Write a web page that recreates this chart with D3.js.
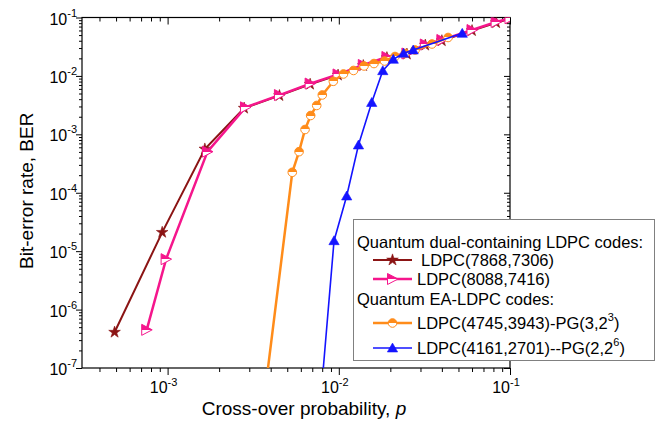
<!DOCTYPE html>
<html>
<head>
<meta charset="utf-8">
<script src="https://cdn.jsdelivr.net/npm/d3@7"></script>
<style>
  body { margin: 0; background: #fff; }
  text { font-family: "Liberation Sans", Arial, Helvetica, sans-serif; fill: #000; }
</style>
</head>
<body>
<script>
// Dimensions
const width = 661;
const height = 426;
const plot = { left: 82, right: 510, top: 17.5, bottom: 368 };

// les données
const pStar   = [4.9e-4, 9.3e-4, 1.65e-3, 2.8e-3, 4.5e-3, 6.8e-3, 9.9e-3, 0.0139, 0.0191, 0.025, 0.032, 0.040, 0.060, 0.083, 0.1];
const berStar = [4.1e-7, 2.1e-5, 5.6e-4, 2.8e-3, 4.6e-3, 7.2e-3, 0.0103, 0.0150, 0.0205, 0.0236, 0.0336, 0.0400, 0.0595, 0.0815, 0.095];

const pTri   = [7.55e-4, 9.8e-4, 1.71e-3, 2.85e-3, 4.5e-3, 6.8e-3, 9.9e-3, 0.0139, 0.0191, 0.025, 0.032, 0.040, 0.060, 0.083, 0.1];
const berTri = [4.5e-7, 7.3e-6, 5.05e-4, 2.9e-3, 4.7e-3, 7.4e-3, 0.0106, 0.0154, 0.0211, 0.0242, 0.0345, 0.0412, 0.061, 0.084, 0.097];

const pPG3   = [3.5e-3, 5.35e-3, 5.86e-3, 6.35e-3, 6.85e-3, 7.43e-3, 8.01e-3, 9.29e-3, 0.01065, 0.01219, 0.01404, 0.01605, 0.0185, 0.0213, 0.0244, 0.0279, 0.035, 0.0435];
const berPG3 = [1e-8, 2.24e-4, 5.05e-4, 1.21e-3, 2.10e-3, 3.12e-3, 4.72e-3, 8.09e-3, 0.0108, 0.0124, 0.0148, 0.0163, 0.0180, 0.0215, 0.0242, 0.0278, 0.0352, 0.0455];

const pPG2   = [7.6e-3, 9.38e-3, 0.01112, 0.01303, 0.01557, 0.01807, 0.0208, 0.0239, 0.0272, 0.0526];
const berPG2 = [1e-8, 1.51e-5, 8.8e-5, 6.57e-4, 3.51e-3, 0.01229, 0.01926, 0.0244, 0.0278, 0.0536];

const xMajor = [-3, -2, -1];
const yMajor = [-7, -6, -5, -4, -3, -2, -1];

const colors = { star: "#8b1414", tri: "#f5168c", pg3: "#ff8c1a", pg2: "#1414ff" };

const series = [
  { name: "LDPC(7868,7306)", p: pStar, ber: berStar, color: colors.star, marker: "star", lw: 2 },
  { name: "LDPC(8088,7416)", p: pTri, ber: berTri, color: colors.tri, marker: "tri", lw: 2.5 },
  { name: "LDPC(4745,3943)-PG(3,2", sup: "3", p: pPG3, ber: berPG3, color: colors.pg3, marker: "circle", lw: 2.5 },
  { name: "LDPC(4161,2701)--PG(2,2", sup: "6", p: pPG2, ber: berPG2, color: colors.pg2, marker: "up", lw: 1.6 }
];

// Création du SVG
const svg = d3.select("body").append("svg")
  .attr("width", width)
  .attr("height", height);

const defs = svg.append("defs");
defs.append("clipPath").attr("id", "clip")
  .append("rect")
  .attr("x", plot.left).attr("y", plot.top)
  .attr("width", plot.right - plot.left).attr("height", plot.bottom - plot.top);

// dégradés pour les marqueurs à moitié remplis
[["half-tri", colors.tri], ["half-pg3", colors.pg3]].forEach(([id, c]) => {
  const g = defs.append("linearGradient").attr("id", id)
    .attr("x1", 0).attr("y1", 0).attr("x2", 0).attr("y2", 1);
  g.append("stop").attr("offset", "0.5").attr("stop-color", c);
  g.append("stop").attr("offset", "0.5").attr("stop-color", "#fff");
});

const x = d3.scaleLog().domain([Math.pow(10, -3.5), 0.1]).range([plot.left, plot.right]);
const y = d3.scaleLog().domain([1e-7, 0.1]).range([plot.bottom, plot.top]);

// graduations mineures
const xMinor = [];
for (let e = -4; e <= -2; e++) for (let k = 2; k <= 9; k++) {
  const v = k * Math.pow(10, e);
  if (v >= x.domain()[0] && v <= x.domain()[1]) xMinor.push(v);
}
const yMinor = [];
for (let e = -7; e <= -2; e++) for (let k = 2; k <= 9; k++) yMinor.push(k * Math.pow(10, e));

function drawAxis(axisFn, scale, values, size, transform) {
  const g = svg.append("g")
    .attr("transform", transform)
    .call(axisFn(scale).tickValues(values).tickSize(size).tickSizeOuter(0).tickFormat(""));
  g.select(".domain").remove();
  g.selectAll("line").attr("stroke", "#000").attr("stroke-width", 1);
}

const xMajorVals = xMajor.map(e => Math.pow(10, e));
const yMajorVals = yMajor.map(e => Math.pow(10, e));

// x : graduations vers le bas en haut et en bas
drawAxis(d3.axisBottom, x, xMajorVals, 7, `translate(0,${plot.bottom})`);
drawAxis(d3.axisBottom, x, xMinor, 4, `translate(0,${plot.bottom})`);
drawAxis(d3.axisBottom, x, xMajorVals, 7, `translate(0,${plot.top})`);
drawAxis(d3.axisBottom, x, xMinor, 4, `translate(0,${plot.top})`);
// y : graduations vers la gauche des deux côtés
drawAxis(d3.axisLeft, y, yMajorVals, 6, `translate(${plot.left},0)`);
drawAxis(d3.axisLeft, y, yMinor, 3, `translate(${plot.left},0)`);
drawAxis(d3.axisLeft, y, yMajorVals, 6, `translate(${plot.right},0)`);
drawAxis(d3.axisLeft, y, yMinor, 3, `translate(${plot.right},0)`);

// cadre
svg.append("rect")
  .attr("x", plot.left).attr("y", plot.top)
  .attr("width", plot.right - plot.left).attr("height", plot.bottom - plot.top)
  .attr("fill", "none").attr("stroke", "#000").attr("stroke-width", 1.2);

// étiquettes 10^n
const xLab = svg.append("g").selectAll("text").data(xMajor).join("text")
  .attr("x", d => x(Math.pow(10, d)) - 4)
  .attr("y", plot.bottom + 25)
  .attr("text-anchor", "middle")
  .style("font-size", "16px");
xLab.append("tspan").text("10");
xLab.append("tspan").attr("dy", -7).style("font-size", "11px").text(d => d);

const yLab = svg.append("g").selectAll("text").data(yMajor).join("text")
  .attr("x", plot.left - 5)
  .attr("y", d => y(Math.pow(10, d)) + 7)
  .attr("text-anchor", "end")
  .style("font-size", "16px");
yLab.append("tspan").text("10");
yLab.append("tspan").attr("dy", -8).style("font-size", "11px").text(d => d);

// titres des axes
const xt = svg.append("text")
  .attr("x", (plot.left + plot.right) / 2 + 8)
  .attr("y", 415)
  .attr("text-anchor", "middle")
  .style("font-size", "19px");
xt.append("tspan").text("Cross-over probability, ");
xt.append("tspan").style("font-style", "italic").text("p");

svg.append("text")
  .attr("transform", `translate(33,${(plot.top + plot.bottom) / 2 - 2}) rotate(-90)`)
  .attr("text-anchor", "middle")
  .style("font-size", "19px")
  .text("Bit-error rate, BER");

// marqueurs
function marker(sel, type, color) {
  if (type === "star") {
    sel.append("path").attr("d", d3.symbol(d3.symbolStar, 42)())
      .attr("fill", color).attr("stroke", color).attr("stroke-width", 0.6);
  } else if (type === "tri") {
    sel.append("path").attr("d", "M-5,-5.5L5.5,0L-5,5.5Z")
      .attr("fill", "url(#half-tri)").attr("stroke", color).attr("stroke-width", 1);
  } else if (type === "circle") {
    sel.append("circle").attr("r", 4.3)
      .attr("fill", "url(#half-pg3)").attr("stroke", color).attr("stroke-width", 1);
  } else {
    sel.append("path").attr("d", d3.symbol(d3.symbolTriangle, 46)()).attr("transform", "translate(0,1)")
      .attr("fill", color).attr("stroke", color).attr("stroke-width", 0.6);
  }
}

const line = d3.line().x(d => x(d[0])).y(d => y(d[1]));
const plotArea = svg.append("g").attr("clip-path", "url(#clip)");

series.forEach(s => {
  const pts = s.p.map((v, i) => [v, s.ber[i]]);
  plotArea.append("path")
    .datum(pts)
    .attr("d", line)
    .attr("fill", "none")
    .attr("stroke", s.color)
    .attr("stroke-width", s.lw);
  plotArea.append("g").selectAll("g")
    .data(pts.filter(d => d[1] >= y.domain()[0]))
    .join("g")
    .attr("transform", d => `translate(${x(d[0])},${y(d[1])})`)
    .each(function() { marker(d3.select(this), s.marker, s.color); });
});

// Légende
const leg = svg.append("g");
leg.append("rect")
  .attr("x", 353.5).attr("y", 219.5).attr("width", 301).attr("height", 141)
  .attr("fill", "#fff").attr("stroke", "#808080").attr("stroke-width", 1);

const legRows = [
  { text: "Quantum dual-containing LDPC codes:", y: 248 },
  { s: 0, y: 266 },
  { s: 1, y: 285 },
  { text: "Quantum EA-LDPC codes:", y: 305 },
  { s: 2, y: 329 },
  { s: 3, y: 354 }
];
legRows.forEach(r => {
  if (r.text) {
    leg.append("text").attr("x", 357).attr("y", r.y).style("font-size", "16.5px").text(r.text);
    return;
  }
  const s = series[r.s];
  const cy = r.y - 6;
  leg.append("line").attr("x1", 373).attr("x2", 412).attr("y1", cy).attr("y2", cy)
    .attr("stroke", s.color).attr("stroke-width", s.lw);
  const m = leg.append("g").attr("transform", `translate(392.5,${cy})`);
  marker(m, s.marker, s.color);
  const t = leg.append("text").attr("x", r.s === 0 ? 421 : 417).attr("y", r.y).style("font-size", "16.5px");
  t.append("tspan").text(s.name);
  if (s.sup) {
    t.append("tspan").attr("dy", -8).style("font-size", "11px").text(s.sup);
    t.append("tspan").attr("dy", 8).text(")");
  }
});
</script>
</body>
</html>
